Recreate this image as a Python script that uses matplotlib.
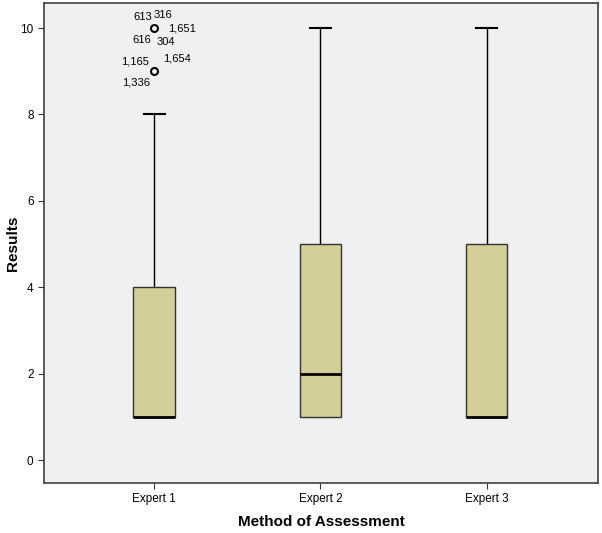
import matplotlib.pyplot as plt

plt.rcParams['font.family'] = ['Liberation Sans', 'DejaVu Sans']

# Datos del boxplot
methods = ["Expert 1", "Expert 2", "Expert 3"]
q1 = [1, 1, 1]
medians = [1, 2, 1]
q3 = [4, 5, 5]
whisker_low = [1, 1, 1]
whisker_high = [8, 10, 10]
outliers = [[10, 9], [], []]

# Etiquetas de casos atípicos (solo Expert 1)
outlier_labels = {
    10: [("613", -11, 11), ("316", 9, 13), ("1,651", 28, 0), ("616", -12, -12), ("304", 12, -14)],
    9: [("1,165", -19, 10), ("1,654", 23, 13), ("1,336", -18, -11)],
}

stats = []
for i, m in enumerate(methods):
    stats.append({
        "label": m,
        "q1": q1[i],
        "med": medians[i],
        "q3": q3[i],
        "whislo": whisker_low[i],
        "whishi": whisker_high[i],
        "fliers": outliers[i],
    })

fig = plt.figure(figsize=(6.02, 5.33), dpi=100)
ax = fig.add_axes([0.0731, 0.0938, 0.9203, 0.9006])
ax.set_facecolor("#f0f0f0")

ax.bxp(
    stats,
    positions=[1, 2, 3],
    widths=0.25,
    patch_artist=True,
    boxprops=dict(facecolor="#d4cf99", edgecolor="#333333", linewidth=1, zorder=3),
    medianprops=dict(color="black", linewidth=2, zorder=4),
    whiskerprops=dict(color="black", linewidth=1),
    capprops=dict(color="black", linewidth=1.5),
    capwidths=0.125,
    flierprops=dict(marker="o", markerfacecolor="white", markeredgecolor="black",
                    markersize=5, markeredgewidth=1.5),
)

for val, labels in outlier_labels.items():
    for txt, dx, dy in labels:
        ax.annotate(txt, (1, val), xytext=(dx, dy), textcoords="offset pixels",
                    ha="center", va="center", fontsize=8)

ax.set_xlim(0.337, 3.67)
ax.set_ylim(-0.53, 10.58)
ax.set_yticks([0, 2, 4, 6, 8, 10])
ax.set_xticks([1, 2, 3])
ax.set_xticklabels(methods)
ax.tick_params(labelsize=8.5, length=4, color="#333333")

for s in ax.spines.values():
    s.set_color("#404040")
    s.set_linewidth(1.2)

ax.set_xlabel("Method of Assessment", fontsize=11, fontweight="bold")
ax.set_ylabel("Results", fontsize=11, fontweight="bold")
ax.xaxis.set_label_coords(0.5, -0.066)
ax.yaxis.set_label_coords(-0.043, 0.5)

plt.savefig("out.png", dpi=100)
plt.close()
